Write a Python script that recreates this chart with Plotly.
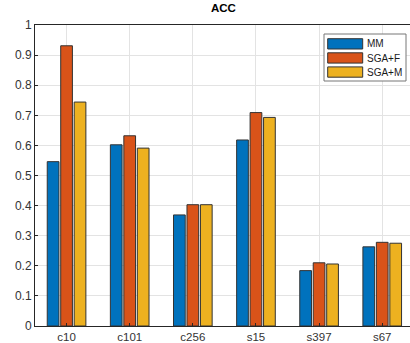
import plotly.graph_objects as go

categories = ["c10", "c101", "c256", "s15", "s397", "s67"]
series_names = ["MM", "SGA+F", "SGA+M"]
mm = [0.546, 0.602, 0.369, 0.618, 0.184, 0.263]
sga_f = [0.931, 0.632, 0.403, 0.709, 0.210, 0.278]
sga_m = [0.744, 0.591, 0.403, 0.693, 0.206, 0.275]
y_ticks = [0, 0.1, 0.2, 0.3, 0.4, 0.5, 0.6, 0.7, 0.8, 0.9, 1]
y_tick_labels = ["0", "0.1", "0.2", "0.3", "0.4", "0.5", "0.6", "0.7", "0.8", "0.9", "1"]

colors = ["#0072BD", "#D95319", "#EDB120"]

W, H = 410, 343
ML, MR, MT, MB = 35, 0, 25, 17
PW, PH = W - ML - MR, H - MT - MB

def px_x(px):
    return (px - ML) / PW

def px_y(py):
    return (H - MB - py) / PH

fig = go.Figure()
for name, vals, c in zip(series_names, [mm, sga_f, sga_m], colors):
    fig.add_trace(go.Bar(x=categories, y=vals, name=name, showlegend=False,
                         marker=dict(color=c, line=dict(color="#333333", width=1))))

# custom MATLAB-style legend
shapes = [dict(type="rect", xref="paper", yref="paper",
               x0=px_x(324), x1=px_x(406), y0=px_y(81), y1=px_y(34),
               fillcolor="white", line=dict(color="#777777", width=1), layer="above")]
annotations = []
for i, (name, c) in enumerate(zip(series_names, colors)):
    top = 38.7 + 14.1 * i
    shapes.append(dict(type="rect", xref="paper", yref="paper",
                       x0=px_x(327.7), x1=px_x(362.7), y0=px_y(top + 10.3), y1=px_y(top),
                       fillcolor=c, line=dict(color="#333333", width=1), layer="above"))
    annotations.append(dict(text=name, xref="paper", yref="paper",
                            x=px_x(364.5), y=px_y(top + 5.2), xanchor="left", yanchor="middle",
                            showarrow=False, font=dict(size=10, color="#1a1a1a")))

fig.update_layout(
    width=W, height=H,
    margin=dict(l=ML, r=MR, t=MT, b=MB),
    barmode="group", bargap=0.36, bargroupgap=0.13,
    plot_bgcolor="white", paper_bgcolor="white",
    font=dict(family="Liberation Sans, Arial, sans-serif", size=11, color="#262626"),
    title=dict(text="<b>ACC</b>", x=0.545, xanchor="center", y=0.988, yanchor="top",
               font=dict(size=11.5, color="#000000")),
    showlegend=False,
    shapes=shapes,
    annotations=annotations,
    xaxis=dict(type="category", range=[-0.5, 5.44], showgrid=True,
               gridcolor="#e3e3e3", gridwidth=1,
               showline=True, linecolor="#262626", linewidth=1, mirror=True,
               ticks="inside", ticklen=3, tickcolor="#262626",
               tickfont=dict(size=11.5, color="#333333")),
    yaxis=dict(range=[0, 1], tickvals=y_ticks, ticktext=y_tick_labels,
               showgrid=True, gridcolor="#e3e3e3", gridwidth=1, zeroline=False,
               showline=True, linecolor="#262626", linewidth=1, mirror=True,
               ticks="inside", ticklen=3, tickcolor="#262626",
               tickfont=dict(size=12, color="#333333")),
)

fig.write_html("out.html", config={"displayModeBar": False},
               post_script="document.body.style.margin='0';document.body.style.overflow='hidden';")
